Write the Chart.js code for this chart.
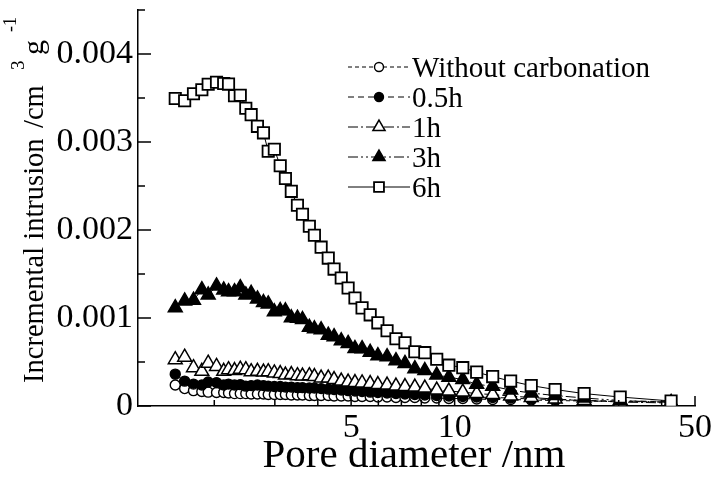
<!DOCTYPE html>
<html>
<head>
<meta charset="utf-8">
<script src="https://cdn.jsdelivr.net/npm/chart.js@4.4.0/dist/chart.umd.min.js"></script>
<style>
body { margin: 0; background: #fff; }
#wrap { width: 711px; height: 482px; }
</style>
</head>
<body>
<div id="wrap"><canvas id="myChart"></canvas></div>
<script>
// pore diameter (nm), shared by all curves
var poreDiameter = [1.54, 1.64, 1.74, 1.84, 1.92, 2.03, 2.13, 2.20, 2.29, 2.38,
    2.47, 2.56, 2.67, 2.78, 2.87, 2.99, 3.11, 3.22, 3.35, 3.49,
    3.61, 3.78, 3.91, 4.09, 4.29, 4.46, 4.68, 4.90, 5.13, 5.38,
    5.68, 5.98, 6.36, 6.75, 7.17, 7.66, 8.19, 8.87, 9.62, 10.56,
    11.59, 12.9, 14.55, 16.7, 19.6, 23.8, 30.3, 42.6];

// incremental intrusion (cm3/g)
var withoutCarbonation = [0.000238, 0.000198, 0.000175, 0.000164, 0.000158, 0.000153, 0.000153, 0.000147, 0.000141, 0.000141,
    0.000141, 0.000136, 0.000136, 0.000136, 0.000130, 0.000130, 0.000130, 0.000130, 0.000125, 0.000125,
    0.000125, 0.000119, 0.000119, 0.000119, 0.000119, 0.000113, 0.000113, 0.000113, 0.000108, 0.000108,
    0.000108, 0.000102, 0.000102, 0.000096, 0.000096, 0.000096, 0.000091, 0.000091, 0.000085, 0.000085,
    0.000079, 0.000074, 0.000074, 0.000068, 0.000062, 0.000057, 0.000051, 0.000045];
var carb05h = [0.000362, 0.000283, 0.000249, 0.000238, 0.000272, 0.000266, 0.000238, 0.000249, 0.000238, 0.000243,
    0.000226, 0.000232, 0.000238, 0.000232, 0.000226, 0.000221, 0.000221, 0.000215, 0.000215, 0.000209,
    0.000209, 0.000204, 0.000204, 0.000198, 0.000192, 0.000187, 0.000181, 0.000175, 0.000170, 0.000164,
    0.000158, 0.000153, 0.000147, 0.000141, 0.000136, 0.000130, 0.000125, 0.000119, 0.000113, 0.000108,
    0.000102, 0.000096, 0.000091, 0.000079, 0.000074, 0.000062, 0.000057, 0.000051];
var carb1h = [0.000526, 0.000555, 0.000436, 0.000394, 0.000487, 0.000450, 0.000394, 0.000413, 0.000402, 0.000419,
    0.000413, 0.000390, 0.000394, 0.000385, 0.000390, 0.000376, 0.000368, 0.000351, 0.000357, 0.000345,
    0.000340, 0.000345, 0.000334, 0.000317, 0.000317, 0.000300, 0.000283, 0.000272, 0.000266, 0.000262,
    0.000255, 0.000243, 0.000238, 0.000226, 0.000221, 0.000215, 0.000204, 0.000181, 0.000170, 0.000158,
    0.000141, 0.000130, 0.000113, 0.000096, 0.000079, 0.000062, 0.000045, 0.000034];
var carb3h = [0.001117, 0.001194, 0.001202, 0.001322, 0.001262, 0.001364, 0.001319, 0.001299, 0.001299, 0.001344,
    0.001262, 0.001281, 0.001217, 0.001175, 0.001160, 0.001070, 0.001084, 0.001081, 0.001002, 0.000998,
    0.000982, 0.000894, 0.000877, 0.000866, 0.000804, 0.000787, 0.000741, 0.000711, 0.000653, 0.000651,
    0.000610, 0.000572, 0.000560, 0.000515, 0.000483, 0.000424, 0.000402, 0.000351, 0.000328, 0.000300,
    0.000247, 0.000224, 0.000181, 0.000147, 0.000119, 0.000091, 0.000062, 0.000040];
var carb6h = [0.003495, 0.003469, 0.003548, 0.003594, 0.003656, 0.003679, 0.003665, 0.003658, 0.003526, 0.003531,
    0.003384, 0.003311, 0.003178, 0.003104, 0.002895, 0.002918, 0.002730, 0.002586, 0.002439, 0.002281,
    0.002179, 0.002043, 0.001941, 0.001805, 0.001681, 0.001556, 0.001454, 0.001341, 0.001228, 0.001115,
    0.001036, 0.000945, 0.000855, 0.000764, 0.000719, 0.000617, 0.000606, 0.000532, 0.000464, 0.000436,
    0.000385, 0.000334, 0.000283, 0.000232, 0.000187, 0.000141, 0.000102, 0.000057];

var seriesNames = ['Without carbonation', '0.5h', '1h', '3h', '6h'];
var yTickValues = [0, 0.001, 0.002, 0.003, 0.004];
var yMinorTicks = [0.0005, 0.0015, 0.0025, 0.0035, 0.0045];
var xTickValues = [5, 10, 50];
var xMinorTicks = [2, 3, 4, 6, 7, 8, 9, 20, 30, 40];

var serif = '"Liberation Serif", "Times New Roman", serif';

function toPoints(vals) {
    return poreDiameter.map(function(d, i) { return { x: d, y: vals[i] }; });
}

function makeSet(name, vals, style, fill, radius, dash, order, bw) {
    return {
        label: name,
        data: toPoints(vals),
        showLine: true,
        borderColor: '#000',
        borderWidth: 1,
        borderDash: dash,
        pointStyle: style,
        pointRadius: radius,
        pointBackgroundColor: fill,
        pointBorderColor: '#000',
        pointBorderWidth: bw,
        order: order
    };
}

function drawMarker(ctx, style, x, y, r, fill, bw) {
    ctx.beginPath();
    if (style === 'circle') {
        ctx.arc(x, y, r, 0, Math.PI * 2);
    } else if (style === 'triangle') {
        for (var k = 0; k < 3; k++) {
            var a = k * Math.PI * 2 / 3;
            var px = x + Math.sin(a) * r, py = y - Math.cos(a) * r;
            if (k === 0) ctx.moveTo(px, py); else ctx.lineTo(px, py);
        }
        ctx.closePath();
    } else {
        var s = r * Math.SQRT1_2;
        ctx.rect(x - s, y - s, 2 * s, 2 * s);
    }
    ctx.fillStyle = fill;
    ctx.fill();
    ctx.lineWidth = bw;
    ctx.strokeStyle = '#000';
    ctx.stroke();
}

// inward ticks, legend and axis titles
var decorPlugin = {
    id: 'decor',
    afterDraw: function(chart) {
        var ctx = chart.ctx;
        var xs = chart.scales.x, ys = chart.scales.y;
        var a = chart.chartArea;
        ctx.save();
        ctx.strokeStyle = '#000';
        ctx.lineWidth = 1.5;
        ctx.beginPath();
        yTickValues.forEach(function(v) {
            var p = ys.getPixelForValue(v);
            ctx.moveTo(a.left, p); ctx.lineTo(a.left + 13, p);
        });
        yMinorTicks.forEach(function(v) {
            var p = ys.getPixelForValue(v);
            ctx.moveTo(a.left, p); ctx.lineTo(a.left + 7, p);
        });
        xTickValues.forEach(function(v) {
            var p = xs.getPixelForValue(v);
            ctx.moveTo(p, a.bottom); ctx.lineTo(p, a.bottom - 10);
        });
        xMinorTicks.forEach(function(v) {
            var p = xs.getPixelForValue(v);
            ctx.moveTo(p, a.bottom); ctx.lineTo(p, a.bottom - 6);
        });
        ctx.stroke();

        // legend
        chart.data.datasets.forEach(function(ds, i) {
            var y = 67 + i * 30;
            ctx.lineWidth = 1;
            ctx.setLineDash(ds.borderDash || []);
            ctx.beginPath();
            ctx.moveTo(348, y); ctx.lineTo(410, y);
            ctx.stroke();
            ctx.setLineDash([]);
            drawMarker(ctx, ds.pointStyle, 379, y, ds.pointStyle === 'circle' ? 4.5 : 7,
                ds.pointBackgroundColor, ds.pointBorderWidth);
            ctx.fillStyle = '#000';
            ctx.font = '29px ' + serif;
            ctx.textBaseline = 'alphabetic';
            ctx.textAlign = 'left';
            ctx.fillText(ds.label, 412, y + 10);
        });

        // x title
        ctx.font = '41px ' + serif;
        ctx.textAlign = 'center';
        ctx.fillText('Pore diameter /nm', 414, 467);

        // y title (rotated, with superscripts)
        ctx.translate(43, 383);
        ctx.rotate(-Math.PI / 2);
        ctx.textAlign = 'left';
        ctx.font = '28.5px ' + serif;
        ctx.fillText('Incremental intrusion', 0, 0);
        ctx.fillText('/cm', 255, 0);
        ctx.font = '19px ' + serif;
        ctx.fillText('3', 313, -19);
        ctx.font = '30px ' + serif;
        ctx.fillText('g', 328, 0);
        ctx.font = '18px ' + serif;
        ctx.fillText('-1', 351, -27);
        ctx.restore();
    }
};

var ctx = document.getElementById('myChart').getContext('2d');
var myChart = new Chart(ctx, {
    type: 'scatter',
    data: {
        datasets: [
            makeSet(seriesNames[0], withoutCarbonation, 'circle', '#fff', 5, [4, 3], 5, 1.4),
            makeSet(seriesNames[1], carb05h, 'circle', '#000', 5, [6, 4], 4, 1.4),
            makeSet(seriesNames[2], carb1h, 'triangle', '#fff', 8, [10, 3, 2, 3], 3, 1.5),
            makeSet(seriesNames[3], carb3h, 'triangle', '#000', 8, [10, 3, 2, 3, 2, 3], 2, 1.5),
            makeSet(seriesNames[4], carb6h, 'rect', '#fff', 8, [], 1, 1.8)
        ]
    },
    options: {
        responsive: true,
        maintainAspectRatio: false,
        animation: false,
        events: [],
        layout: { padding: { left: 0, right: 16, top: 10, bottom: 0 } },
        plugins: { legend: { display: false }, tooltip: { enabled: false } },
        scales: {
            x: {
                type: 'logarithmic',
                min: 1.2,
                max: 50,
                grid: { display: false, drawTicks: false },
                border: { display: true, color: '#000', width: 1.5 },
                afterBuildTicks: function(s) {
                    s.ticks = xTickValues.map(function(v) { return { value: v }; });
                },
                afterFit: function(s) {
                    s.height = 76;
                    s.paddingLeft = 0;
                    s.paddingRight = 0;
                },
                ticks: {
                    color: '#000',
                    padding: 2,
                    maxRotation: 0,
                    font: { family: serif, size: 34 },
                    callback: function(v) { return String(v); }
                }
            },
            y: {
                min: 0,
                max: 0.0045,
                grid: { display: false, drawTicks: false },
                border: { display: true, color: '#000', width: 1.5 },
                afterBuildTicks: function(s) {
                    s.ticks = yTickValues.map(function(v) { return { value: v }; });
                },
                afterFit: function(s) {
                    s.width = 138;
                    s.paddingTop = 0;
                    s.paddingBottom = 0;
                },
                ticks: {
                    color: '#000',
                    padding: 5,
                    font: { family: serif, size: 34 },
                    callback: function(v) { return v === 0 ? '0' : v.toFixed(3); }
                }
            }
        }
    },
    plugins: [decorPlugin]
});
</script>
</body>
</html>
